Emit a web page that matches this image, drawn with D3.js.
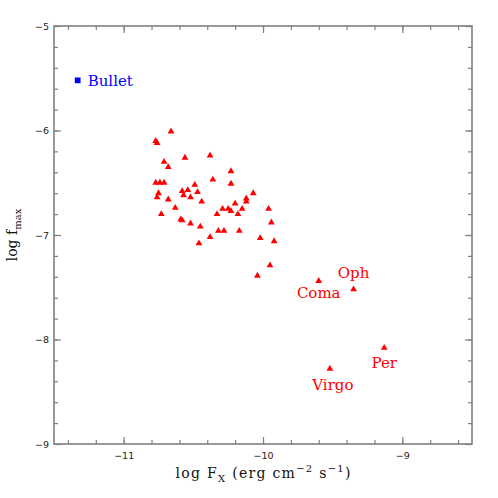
<!DOCTYPE html>
<html>
<head>
<meta charset="utf-8">
<script src="https://cdn.jsdelivr.net/npm/d3@7"></script>
<style>
  body { margin: 0; background: #fff; }
  .tick text { font-family: "DejaVu Sans", sans-serif; font-size: 9.5px; fill: #222; }
  .tick line { stroke: #808080; stroke-width: 1.2; }
  .domain { display: none; }
</style>
</head>
<body>
<div id="chart"></div>
<script>
// log F_X and log f_max for the cluster sample
var clusterLogFx = [-10.77, -10.76, -10.66, -10.56, -10.38, -10.71, -10.68, -10.23,
  -10.77, -10.74, -10.71, -10.49, -10.36, -10.23, -10.58, -10.57, -10.54, -10.47,
  -10.75, -10.76, -10.68, -10.52, -10.44, -10.07, -10.12, -10.12, -10.20, -10.29,
  -10.25, -10.23, -10.15, -10.63, -9.96, -10.73, -10.33, -10.18, -10.59, -10.58,
  -10.52, -9.94, -10.45, -10.32, -10.28, -10.17, -10.38, -10.02, -9.92, -10.46,
  -9.95, -10.04];
var clusterLogFmax = [-6.10, -6.12, -6.01, -6.26, -6.24, -6.30, -6.35, -6.39,
  -6.50, -6.50, -6.50, -6.52, -6.47, -6.51, -6.58, -6.62, -6.57, -6.59,
  -6.60, -6.64, -6.66, -6.64, -6.68, -6.60, -6.65, -6.68, -6.70, -6.75,
  -6.75, -6.77, -6.75, -6.74, -6.75, -6.80, -6.80, -6.80, -6.85, -6.86,
  -6.89, -6.88, -6.92, -6.96, -6.96, -6.96, -7.02, -7.03, -7.06, -7.08,
  -7.29, -7.39];

var namedClusters = ["Coma", "Oph", "Per", "Virgo"];
var namedLogFx = [-9.60, -9.35, -9.13, -9.52];
var namedLogFmax = [-7.44, -7.52, -8.08, -8.28];

var bulletName = "Bullet";
var bulletLogFx = -11.33;
var bulletLogFmax = -5.52;

var xMajorTicks = [-11, -10, -9];
var yMajorTicks = [-9, -8, -7, -6, -5];

var width = 498, height = 498;
var margin = {top: 26, right: 26, bottom: 54, left: 54};
var w = width - margin.left - margin.right;
var h = height - margin.top - margin.bottom;

var svg = d3.select("#chart").append("svg")
    .attr("width", width)
    .attr("height", height);
svg.append("rect").attr("width", width).attr("height", height).attr("fill", "#fff");

var g = svg.append("g").attr("transform", "translate(" + margin.left + "," + margin.top + ")");

var x = d3.scaleLinear().domain([-11.5, -8.5]).range([0, w]);
var y = d3.scaleLinear().domain([-9, -5]).range([h, 0]);

var xMinor = d3.range(-11.4, -8.5, 0.2).map(function(v) { return +v.toFixed(1); });
var yMinor = d3.range(-8.8, -5, 0.2).map(function(v) { return +v.toFixed(1); });

// minor ticks on all four sides
g.append("g").attr("transform", "translate(0," + h + ")")
  .call(d3.axisBottom(x).tickValues(xMinor).tickSize(-4).tickFormat(""));
g.append("g")
  .call(d3.axisTop(x).tickValues(xMinor).tickSize(-4).tickFormat(""));
g.append("g")
  .call(d3.axisLeft(y).tickValues(yMinor).tickSize(-4).tickFormat(""));
g.append("g").attr("transform", "translate(" + w + ",0)")
  .call(d3.axisRight(y).tickValues(yMinor).tickSize(-4).tickFormat(""));

// major ticks
g.append("g").attr("transform", "translate(0," + h + ")")
  .call(d3.axisBottom(x).tickValues(xMajorTicks).tickSize(-7).tickPadding(8).tickFormat(d3.format("d")));
g.append("g")
  .call(d3.axisTop(x).tickValues(xMajorTicks).tickSize(-7).tickFormat(""));
g.append("g")
  .call(d3.axisLeft(y).tickValues(yMajorTicks).tickSize(-7).tickPadding(5).tickFormat(d3.format("d")));
g.append("g").attr("transform", "translate(" + w + ",0)")
  .call(d3.axisRight(y).tickValues(yMajorTicks).tickSize(-7).tickFormat(""));

// frame
g.append("rect")
  .attr("width", w).attr("height", h)
  .attr("fill", "none")
  .attr("stroke", "#808080")
  .attr("stroke-width", 1.6);

// axis titles
var xt = svg.append("text")
  .attr("x", margin.left + w / 2)
  .attr("y", 478)
  .attr("text-anchor", "middle")
  .attr("textLength", 175)
  .attr("lengthAdjust", "spacing")
  .style("font", "14px 'DejaVu Serif', serif")
  .attr("fill", "#111");
xt.append("tspan").text("log F");
xt.append("tspan").attr("dy", 4).style("font-size", "10px").text("X");
xt.append("tspan").attr("dy", -4).text(" (erg cm");
xt.append("tspan").attr("dy", -6).style("font-size", "10px").text("\u22122");
xt.append("tspan").attr("dy", 6).text(" s");
xt.append("tspan").attr("dy", -6).style("font-size", "10px").text("\u22121");
xt.append("tspan").attr("dy", 6).text(")");

var yt = svg.append("text")
  .attr("transform", "translate(17," + (margin.top + h / 2) + ") rotate(-90)")
  .attr("text-anchor", "middle")
  .style("font", "14px 'DejaVu Serif', serif")
  .attr("fill", "#111");
yt.append("tspan").text("log f");
yt.append("tspan").attr("dy", 4).style("font-size", "10px").text("max");

// cluster points
var clusters = clusterLogFx.map(function(v, i) { return {fx: v, fmax: clusterLogFmax[i]}; });
var tri = d3.symbol().type(d3.symbolTriangle).size(20);

g.selectAll(".cl")
  .data(clusters)
  .enter().append("path")
    .attr("class", "cl")
    .attr("d", tri)
    .attr("transform", function(d) { return "translate(" + x(d.fx) + "," + y(d.fmax) + ")"; })
    .attr("fill", "#ff0000");

var named = namedClusters.map(function(n, i) { return {name: n, fx: namedLogFx[i], fmax: namedLogFmax[i]}; });
var labelOffset = {Coma: [0, 17], Oph: [0, -11], Per: [0, 20], Virgo: [3, 21]};

g.selectAll(".nm")
  .data(named)
  .enter().append("path")
    .attr("class", "nm")
    .attr("d", tri)
    .attr("transform", function(d) { return "translate(" + x(d.fx) + "," + y(d.fmax) + ")"; })
    .attr("fill", "#ff0000");

g.selectAll(".nmlabel")
  .data(named)
  .enter().append("text")
    .attr("class", "nmlabel")
    .attr("x", function(d) { return x(d.fx) + labelOffset[d.name][0]; })
    .attr("y", function(d) { return y(d.fmax) + labelOffset[d.name][1]; })
    .attr("text-anchor", "middle")
    .style("font", "15px 'DejaVu Serif', serif")
    .attr("fill", "#ff0000")
    .text(function(d) { return d.name; });

// Bullet cluster
g.append("path")
  .attr("d", d3.symbol().type(d3.symbolSquare).size(33))
  .attr("transform", "translate(" + x(bulletLogFx) + "," + y(bulletLogFmax) + ")")
  .attr("fill", "#0000ff");
g.append("text")
  .attr("x", x(bulletLogFx) + 10)
  .attr("y", y(bulletLogFmax) + 5.5)
  .style("font", "15px 'DejaVu Serif', serif")
  .attr("fill", "#0000ff")
  .text(bulletName);
</script>
</body>
</html>
